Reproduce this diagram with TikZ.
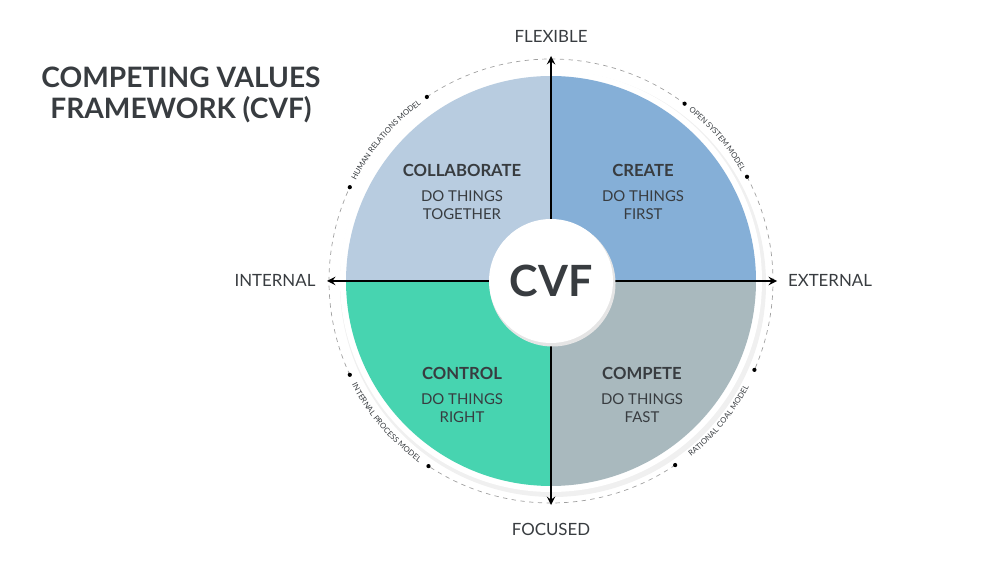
\documentclass[tikz,border=0pt]{standalone}
\usepackage{fontspec}
\setmainfont{Lato}
\usepackage{tikz}
\usetikzlibrary{arrows, positioning, decorations.text}
\definecolor{collabblue}{HTML}{B8CCE0}
\definecolor{createblue}{HTML}{85AFD7}
\definecolor{controlgreen}{HTML}{47D4B0}
\definecolor{competegray}{HTML}{A9B9BE}
\definecolor{inkgray}{HTML}{383C40}
\definecolor{ringgray}{HTML}{A0A0A0}
\tikzstyle{heading}   = [text=inkgray, font=\fontsize{16}{17.5}\selectfont\bfseries, align=center]
\tikzstyle{quadtitle} = [text=inkgray, font=\fontsize{9.5}{11}\selectfont\bfseries]
\tikzstyle{quadsub}   = [text=inkgray, font=\fontsize{8.5}{10.2}\selectfont, align=center]
\tikzstyle{axislabel} = [text=inkgray, font=\fontsize{9.6}{11}\selectfont]
\tikzstyle{arrow}     = [line width=1.1pt, <->, >=stealth]
\tikzstyle{modeldot}  = [circle, fill=black, inner sep=0pt, minimum size=2.4pt]
\tikzstyle{modelarc}  = [ringgray, dash pattern=on 2.5pt off 2.5pt, line width=0.4pt]
\tikzset{modeltext/.style={decorate, decoration={text along path, text align=center, raise=-1.5pt,
    text={|\fontsize{4.4}{5.5}\selectfont\color{inkgray}|#1}}}}

\begin{document}
\begin{tikzpicture}[x=0.02cm, y=0.02cm]
    \useasboundingbox (0,0) rectangle (1000,-563);
    \coordinate (o) at (551,-281);

    % white ring and quadrants
    \fill[black!6] ([shift={(2,-3)}]o) circle (213);
    \fill[white] (o) circle (211);
    \fill[collabblue]   (o) -- ++(180:205) arc (180:90:205)  -- cycle;
    \fill[createblue]   (o) -- ++(90:205)  arc (90:0:205)    -- cycle;
    \fill[controlgreen] (o) -- ++(270:205) arc (270:180:205) -- cycle;
    \fill[competegray]  (o) -- ++(0:205)   arc (360:270:205) -- cycle;

    % outer dashed ring with model names
    \draw[modelarc] (o) ++(124:222) arc (124:53:222);
    \draw[modelarc] (o) ++(28:222)  arc (28:-23.6:222);
    \draw[modelarc] (o) ++(-56:222) arc (-56:-123.5:222);
    \draw[modelarc] (o) ++(205:222) arc (205:155:222);
    \path[modeltext={HUMAN RELATIONS MODEL}]  (o) ++(155:222)  arc (155:124:222);
    \path[modeltext={OPEN SYSTEM MODEL}]      (o) ++(53:222)   arc (53:28:222);
    \path[modeltext={INTERNAL PROCESS MODEL}] (o) ++(205:222)  arc (205:236.5:222);
    \path[modeltext={RATIONAL COAL MODEL}]    (o) ++(-56:222)  arc (-56:-23.6:222);
    \foreach \a/\n in {124/hrb, 155/hra, 53/osa, 28/osb, 205/ipa, 236.5/ipb, -56/rca, -23.6/rcb}
        \node[modeldot] (\n) at ([shift={(\a:222)}]o) {};

    % axes
    \node[axislabel] (flex)     at (551,-36)  {FLEXIBLE};
    \node[axislabel] (focus)    at (551,-529) {FOCUSED};
    \node[axislabel] (internal) at (275,-280) {INTERNAL};
    \node[axislabel] (external) at (830,-280) {EXTERNAL};
    \coordinate (flexend)  at (551,-56);
    \coordinate (focusend) at (551,-505);
    \coordinate (intend)   at (327,-281);
    \coordinate (extend)   at (777,-281);
    \draw[arrow] (focusend) -- (flexend);
    \draw[arrow] (intend) -- (extend);

    % centre
    \fill[black!10] ([shift={(1.5,-2.5)}]o) circle (63);
    \node[circle, fill=white, minimum size=2.48cm, text=inkgray,
          font=\fontsize{24.5}{28}\selectfont\bfseries] (cvf) at (o) {CVF};

    % quadrant texts
    \node[quadtitle] (collab)  at (462,-170) {COLLABORATE};
    \node[quadsub, below=1pt of collab]  (collabsub)  {DO THINGS\\TOGETHER};
    \node[quadtitle] (create)  at (643,-170) {CREATE};
    \node[quadsub, below=1pt of create]  (createsub)  {DO THINGS\\FIRST};
    \node[quadtitle] (control) at (462,-373) {CONTROL};
    \node[quadsub, below=1pt of control] (controlsub) {DO THINGS\\RIGHT};
    \node[quadtitle] (compete) at (642,-373) {COMPETE};
    \node[quadsub, below=1pt of compete] (competesub) {DO THINGS\\FAST};

    % title
    \node[heading] (title) at (181,-95) {COMPETING VALUES\\FRAMEWORK (CVF)};
\end{tikzpicture}
\end{document}
